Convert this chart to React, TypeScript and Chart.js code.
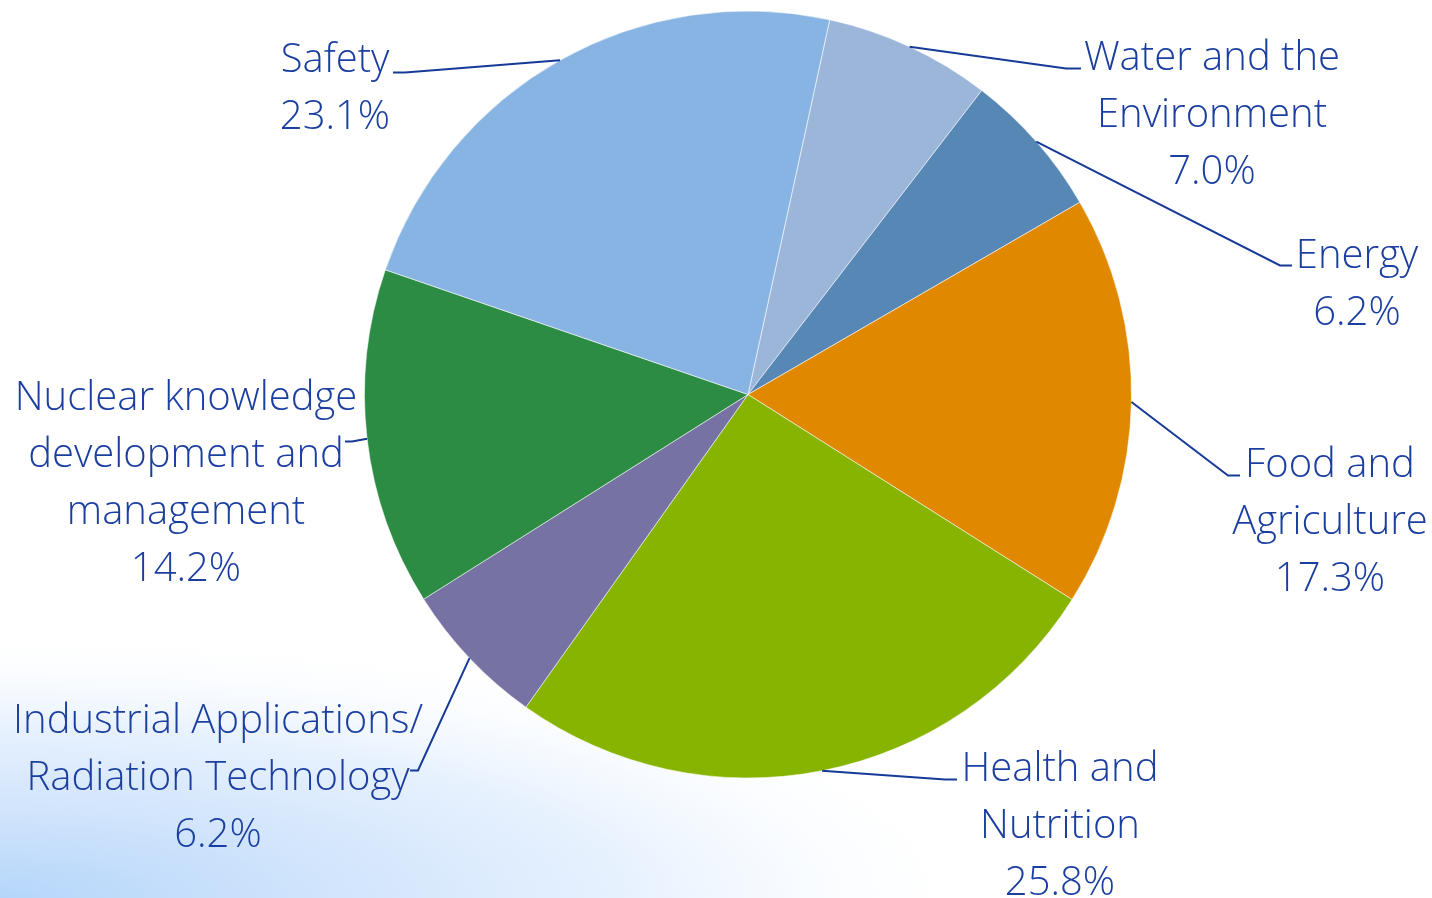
import React, { useEffect, useRef } from "react";
import { Chart, registerables } from "chart.js";

Chart.register(...registerables);

// ---- data ----
const categories: string[][] = [
  ["Water and the", "Environment"],
  ["Energy"],
  ["Food and", "Agriculture"],
  ["Health and", "Nutrition"],
  ["Industrial Applications/", "Radiation Technology"],
  ["Nuclear knowledge", "development and", "management"],
  ["Safety"],
];
const shares: number[] = [7.0, 6.2, 17.3, 25.8, 6.2, 14.2, 23.1];
const sliceColors: string[] = [
  "#9CB6DA",
  "#5787B4",
  "#E08900",
  "#86B400",
  "#7672A4",
  "#2D8C43",
  "#88B4E3",
];

// ---- label layout (offsets from pie centre, px) ----
const labelLayout = [
  { elbow: [318, -326], tail: 15, text: [464, -336] },
  { elbow: [532, -129], tail: 12, text: [609, -138] },
  { elbow: [480, 81], tail: 12, text: [582, 71] },
  { elbow: [197, 385], tail: 12, text: [312, 375] },
  { elbow: [-330, 376], tail: -8, text: [-530, 327] },
  { elbow: [-396, 47], tail: -7, text: [-562, 4] },
  { elbow: [-343, -322], tail: -12, text: [-413, -334] },
];

const TEXT_COLOR = "#1B3FA0";
const LINE_COLOR = "#173A98";
const FONT = '300 40px "Open Sans"';
const LINE_H = 57;

const bgPlugin = {
  id: "bgGradient",
  beforeDraw(chart: any) {
    const { ctx, width, height } = chart;
    const sy = 0.27;
    ctx.save();
    ctx.fillStyle = "#ffffff";
    ctx.fillRect(0, 0, width, height);
    ctx.translate(0, height);
    ctx.scale(1, sy);
    const g = ctx.createRadialGradient(0, 0, 0, 0, 0, 1000);
    g.addColorStop(0, "#B5D6FA");
    g.addColorStop(0.34, "#D2E5FC");
    g.addColorStop(0.64, "#E8F2FE");
    g.addColorStop(1, "rgba(255,255,255,0)");
    ctx.fillStyle = g;
    ctx.fillRect(0, -height / sy, width, height / sy);
    ctx.restore();
  },
};

const labelPlugin = {
  id: "outLabels",
  afterDatasetsDraw(chart: any) {
    const ctx = chart.ctx as CanvasRenderingContext2D;
    const meta = chart.getDatasetMeta(0);
    meta.data.forEach((arc: any, i: number) => {
      const p = arc.getProps(["x", "y", "startAngle", "endAngle", "outerRadius"], true);
      const mid = (p.startAngle + p.endAngle) / 2;
      const sx = p.x + Math.cos(mid) * p.outerRadius;
      const sy = p.y + Math.sin(mid) * p.outerRadius;
      const lay = labelLayout[i];
      const ex = p.x + lay.elbow[0];
      const ey = p.y + lay.elbow[1];
      ctx.save();
      ctx.strokeStyle = LINE_COLOR;
      ctx.lineWidth = 2;
      ctx.beginPath();
      ctx.moveTo(sx, sy);
      ctx.lineTo(ex, ey);
      ctx.lineTo(ex + lay.tail, ey);
      ctx.stroke();

      const lines = [...categories[i], shares[i].toFixed(1) + "%"];
      ctx.fillStyle = TEXT_COLOR;
      ctx.font = FONT;
      ctx.textAlign = "center";
      ctx.textBaseline = "middle";
      lines.forEach((t, k) => {
        ctx.fillText(t, p.x + lay.text[0], p.y + lay.text[1] + k * LINE_H);
      });
      ctx.restore();
    });
  },
};

export default function App() {
  const ref = useRef<HTMLCanvasElement | null>(null);
  useEffect(() => {
    document.body.style.margin = "0";
    const canvas = ref.current!;
    const chart = new Chart(canvas, {
      type: "pie",
      data: {
        labels: categories.map((c) => c.join(" ")),
        datasets: [
          {
            data: shares,
            backgroundColor: sliceColors,
            borderColor: "rgba(255,255,255,0.55)",
            borderWidth: 1,
          },
        ],
      },
      options: {
        animation: false,
        responsive: true,
        maintainAspectRatio: false,
        rotation: 12.3,
        layout: { padding: { top: 10, bottom: 119, left: 364, right: 300 } },
        plugins: {
          legend: { display: false },
          tooltip: { enabled: false },
        },
      },
      plugins: [bgPlugin, labelPlugin],
    });
    return () => chart.destroy();
  }, []);
  return (
    <div style={{ position: "fixed", left: 0, top: 0, width: 1432, height: 898 }}>
      <canvas ref={ref} />
    </div>
  );
}
